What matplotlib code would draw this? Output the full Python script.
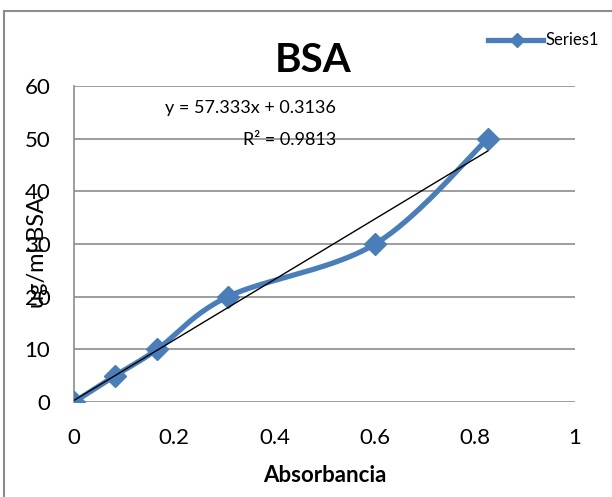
import numpy as np
import matplotlib
matplotlib.use('Agg')
import matplotlib.pyplot as plt
from matplotlib.lines import Line2D

# donnees
absorbancia = [0.0, 0.082, 0.166, 0.307, 0.601, 0.826]
bsa = [0, 5, 10, 20, 30, 50]
pente = 57.333
ordonnee = 0.3136
r2 = 0.9813
x_ticks = [0, 0.2, 0.4, 0.6, 0.8, 1]
y_ticks = [0, 10, 20, 30, 40, 50, 60]

bleu = '#4A7EBB'
gris = '#8C8C8C'

plt.rcParams['font.family'] = ['Lato', 'DejaVu Sans']


def courbe_lisse(xs, ys, n=40):
    # lissage type Excel (Bezier / Catmull-Rom)
    xs = np.asarray(xs, float)
    ys = np.asarray(ys, float)
    px = np.concatenate([[xs[0]], xs, [xs[-1]]])
    py = np.concatenate([[ys[0]], ys, [ys[-1]]])
    out_x, out_y = [], []
    t = np.linspace(0, 1, n)
    for i in range(1, len(px) - 2):
        p0 = np.array([px[i], py[i]])
        p3 = np.array([px[i + 1], py[i + 1]])
        p1 = p0 + (np.array([px[i + 1], py[i + 1]]) - np.array([px[i - 1], py[i - 1]])) / 6
        p2 = p3 - (np.array([px[i + 2], py[i + 2]]) - np.array([px[i], py[i]])) / 6
        b = ((1 - t) ** 3)[:, None] * p0 + (3 * (1 - t) ** 2 * t)[:, None] * p1 \
            + (3 * (1 - t) * t ** 2)[:, None] * p2 + (t ** 3)[:, None] * p3
        out_x.extend(b[:, 0])
        out_y.extend(b[:, 1])
    return out_x, out_y


fig = plt.figure(figsize=(6.12, 4.97), dpi=100)
ax = fig.add_axes([74 / 612, 95 / 497, 501 / 612, 316 / 497])

# cadre exterieur du graphique
fig.add_artist(Line2D([4 / 612, 1], [1 - 11 / 497, 1 - 11 / 497], color=gris, lw=1.5))
fig.add_artist(Line2D([4 / 612, 4 / 612], [0, 1 - 11 / 497], color=gris, lw=1.5))

for yv in y_ticks:
    ax.axhline(yv, color=gris, lw=1.2, zorder=1)

lx, ly = courbe_lisse(absorbancia, bsa)
ax.plot(lx, ly, color=bleu, lw=3.8, zorder=3, solid_capstyle='round')
ax.plot(absorbancia, bsa, linestyle='none', marker='D', ms=11, color=bleu, zorder=4)

# ligne de tendance
xt = np.array([0, max(absorbancia)])
ax.plot(xt, pente * xt + ordonnee, color='black', lw=1, zorder=5)

ax.set_xlim(0, 1)
ax.set_ylim(0, 60)
ax.set_xticks(x_ticks)
ax.set_xticklabels(['0', '0.2', '0.4', '0.6', '0.8', '1'])
ax.set_yticks(y_ticks)
ax.tick_params(length=0, labelsize=16)
ax.tick_params(axis='x', pad=18.5)
ax.tick_params(axis='y', pad=17)
for cote in ['top', 'right', 'bottom']:
    ax.spines[cote].set_visible(False)
ax.spines['left'].set_color(gris)
ax.spines['left'].set_linewidth(1.2)

fig.text(313 / 612, 1 - 60 / 497, 'BSA', fontsize=29, fontweight='bold',
         ha='center', va='center')
fig.text(325 / 612, 1 - 476 / 497, 'Absorbancia', fontsize=16, fontweight='bold',
         ha='center', va='center')
fig.text(37 / 612, 1 - 252 / 497, 'ug/ml BSA', fontsize=17, rotation=90,
         ha='center', va='center')
fig.text(336 / 612, 1 - 124 / 497,
         'y = %.3fx + %.4f\nR² = %.4f' % (pente, ordonnee, r2),
         fontsize=13, ha='right', va='center', multialignment='right',
         linespacing=2.3)

# legende
fig.add_artist(Line2D([488 / 612, 543 / 612], [1 - 40 / 497, 1 - 40 / 497],
                      color=bleu, lw=3.8))
fig.add_artist(Line2D([517 / 612], [1 - 40 / 497], color=bleu, marker='D', ms=7,
                      linestyle='none'))
fig.text(546 / 612, 1 - 40 / 497, 'Series1', fontsize=12, ha='left', va='center')

fig.savefig('out.png', dpi=100)
